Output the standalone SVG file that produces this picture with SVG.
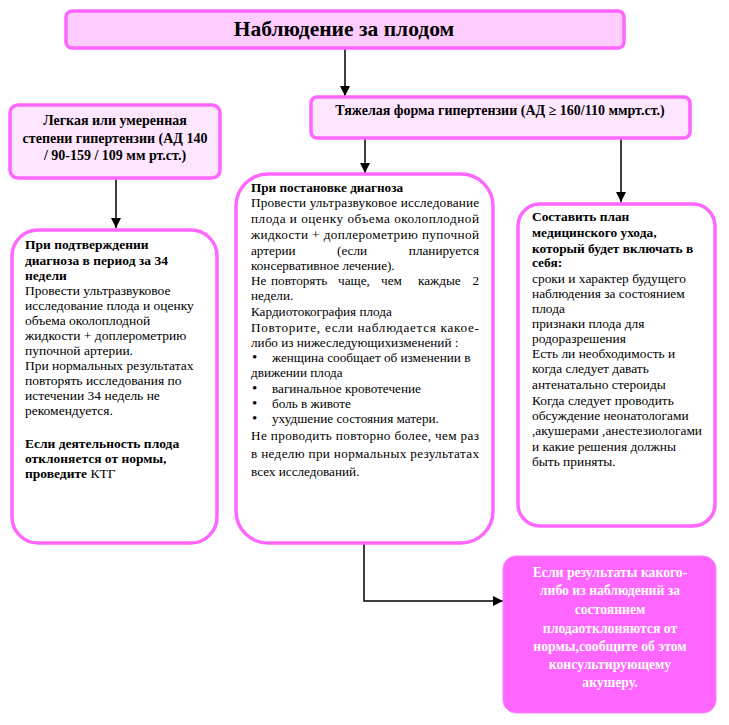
<svg xmlns="http://www.w3.org/2000/svg" width="729" height="725" viewBox="0 0 729 725" font-family="'Liberation Serif', serif">
<defs>
<style>
text{font-family:'Liberation Serif', serif;fill:#000;}
.b{font-weight:bold;}
.t14{font-size:14px;}
.fl{font-size:13.5px;}
.fm{font-size:13.2px;}
.fr{font-size:13.4px;}
.hdr{fill:#ffccff;stroke:#ff66ff;stroke-width:3.5;}
.sub{fill:#ffe6ff;stroke:#ff66ff;stroke-width:3.5;}
.card{fill:#fff;stroke:#ff66ff;stroke-width:3.5;}
.alert{fill:#ff66ff;stroke:#ff80ff;stroke-width:1;}
.wt{fill:#fff;font-weight:bold;font-size:13.7px;text-anchor:middle;}
.c{text-anchor:middle;}
.e{text-anchor:end;}
.ln{fill:none;stroke:#000;stroke-width:1.5;}
</style>
<marker id="ah" viewBox="0 0 10 10" refX="10" refY="5" markerWidth="10" markerHeight="10" markerUnits="userSpaceOnUse" orient="auto">
<path d="M0,0 L10,5 L0,10 z" fill="#000"/>
</marker>
</defs>
<rect width="729" height="725" fill="#fff"/>

<g id="connectors">
<line class="ln" x1="345" y1="49" x2="345" y2="96" marker-end="url(#ah)"/>
<line class="ln" x1="116" y1="179" x2="116" y2="228" marker-end="url(#ah)"/>
<line class="ln" x1="365" y1="139" x2="365" y2="173" marker-end="url(#ah)"/>
<line class="ln" x1="621" y1="139" x2="621" y2="202" marker-end="url(#ah)"/>
<polyline class="ln" points="364,544 364,601 503,601" marker-end="url(#ah)"/>
</g>

<g id="title">
<rect class="hdr" x="66" y="11" width="558" height="37" rx="6"/>
<text class="b c" x="344" y="36" font-size="21.5">Наблюдение за плодом</text>
</g>

<g id="mild">
<rect class="sub" x="10" y="105" width="210" height="73" rx="8"/>
<text class="b c t14" x="115" y="125">Легкая или умеренная</text>
<text class="b c t14" x="115" y="143">степени гипертензии (АД 140</text>
<text class="b c t14" x="115" y="160">/ 90-159 / 109 мм рт.ст.)</text>
</g>

<g id="severe">
<rect class="sub" x="311" y="97" width="379" height="41" rx="6"/>
<text class="b c" x="500" y="115" font-size="14">Тяжелая форма гипертензии (АД ≥ 160/110 ммрт.ст.)</text>
</g>

<g id="left-card">
<rect class="card" x="12" y="230" width="205" height="313" rx="26"/>
<g class="fl">
<text class="b" x="25" y="249">При подтверждении</text>
<text class="b" x="25" y="265">диагноза в период за 34</text>
<text class="b" x="25" y="280">недели</text>
<text x="25" y="295">Провести ультразвуковое</text>
<text x="25" y="310">исследование плода и оценку</text>
<text x="25" y="325">объема околоплодной</text>
<text x="25" y="340">жидкости + доплерометрию</text>
<text x="25" y="355">пупочной артерии.</text>
<text x="25" y="370">При нормальных результатах</text>
<text x="25" y="385">повторять исследования по</text>
<text x="25" y="400">истечении 34 недель не</text>
<text x="25" y="415">рекомендуется.</text>
<text class="b" x="25" y="448">Если деятельность плода</text>
<text class="b" x="25" y="463">отклоняется от нормы,</text>
<text x="25" y="478"><tspan class="b">проведите</tspan> КТГ</text>
</g>
</g>

<g id="middle-card">
<rect class="card" x="236" y="174" width="257" height="369" rx="32"/>
<g class="fm">
<text class="b" x="251" y="192">При постановке диагноза</text>
<text x="251" y="207" textLength="228" lengthAdjust="spacing">Провести ультразвуковое исследование</text>
<text x="251" y="223" textLength="228" lengthAdjust="spacing">плода и оценку объема околоплодной</text>
<text x="251" y="239" textLength="228" lengthAdjust="spacing">жидкости + доплерометрию пупочной</text>
<text x="251" y="255"><tspan>артерии</tspan><tspan x="337">(если</tspan></text>
<text class="e" x="479" y="255">планируется</text>
<text x="251" y="270">консервативное лечение).</text>
<text x="251" y="285"><tspan>Не</tspan><tspan x="271">повторять</tspan><tspan x="338">чаще,</tspan><tspan x="381">чем</tspan><tspan x="418">каждые</tspan></text>
<text class="e" x="479" y="285">2</text>
<text x="251" y="300">недели.</text>
<text x="251" y="316">Кардиотокография плода</text>
<text x="251" y="332" textLength="228" lengthAdjust="spacing">Повторите, если наблюдается какое-</text>
<text x="251" y="347">либо из нижеследующихизменений :</text>
<text x="252" y="362" font-size="15">•</text><text x="272" y="362">женщина сообщает об изменении в</text>
<text x="251" y="377">движении плода</text>
<text x="252" y="393" font-size="15">•</text><text x="272" y="393">вагинальное кровотечение</text>
<text x="252" y="408" font-size="15">•</text><text x="272" y="408">боль в животе</text>
<text x="252" y="423" font-size="15">•</text><text x="272" y="423">ухудшение состояния матери.</text>
<text x="251" y="440" textLength="228" lengthAdjust="spacing">Не проводить повторно более, чем раз</text>
<text x="251" y="458" textLength="228" lengthAdjust="spacing">в неделю при нормальных результатах</text>
<text x="251" y="476">всех исследований.</text>
</g>
</g>

<g id="right-card">
<rect class="card" x="518" y="204" width="197" height="322" rx="22"/>
<g class="fr">
<text class="b" x="532" y="221">Составить план</text>
<text class="b" x="532" y="237">медицинского ухода,</text>
<text class="b" x="532" y="253">который будет включать в</text>
<text class="b" x="532" y="267">себя:</text>
<text x="532" y="283">сроки и характер будущего</text>
<text x="532" y="298">наблюдения за состоянием</text>
<text x="532" y="313">плода</text>
<text x="532" y="328">признаки плода для</text>
<text x="532" y="343">родоразрешения</text>
<text x="532" y="358">Есть ли необходимость и</text>
<text x="532" y="373">когда следует давать</text>
<text x="532" y="389">антенатально стероиды</text>
<text x="532" y="405">Когда следует проводить</text>
<text x="532" y="420">обсуждение неонатологами</text>
<text x="532" y="435" textLength="170" lengthAdjust="spacingAndGlyphs">,акушерами ,анестезиологами</text>
<text x="532" y="451">и какие решения должны</text>
<text x="532" y="466">быть приняты.</text>
</g>
</g>

<g id="alert">
<rect class="alert" x="503" y="556" width="213" height="157" rx="13"/>
<text class="wt" x="610" y="577">Если результаты какого-</text>
<text class="wt" x="610" y="595">либо из наблюдений за</text>
<text class="wt" x="610" y="614">состоянием</text>
<text class="wt" x="610" y="633">плодаотклоняются от</text>
<text class="wt" x="610" y="651">нормы,сообщите об этом</text>
<text class="wt" x="610" y="669">консультирующему</text>
<text class="wt" x="610" y="687">акушеру.</text>
</g>
</svg>
